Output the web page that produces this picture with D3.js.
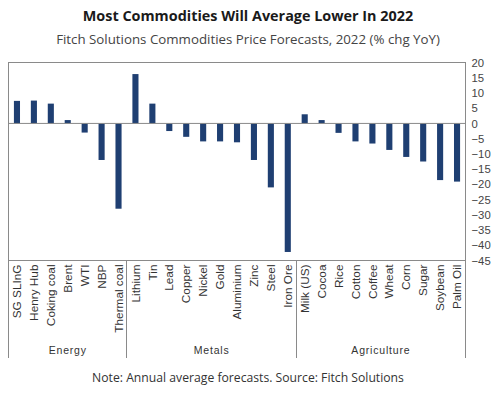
<!DOCTYPE html>
<html><head><meta charset="utf-8">
<script src="https://cdn.jsdelivr.net/npm/d3@7"></script>
<style>
body{margin:0;background:#fff;}
svg{display:block;}
</style></head>
<body>
<svg id="chart" width="500" height="394"></svg>
<script>
const categories = ["SG SLInG","Henry Hub","Coking coal","Brent","WTI","NBP","Thermal coal",
  "Lithium","Tin","Lead","Copper","Nickel","Gold","Aluminium","Zinc","Steel","Iron Ore",
  "Milk (US)","Cocoa","Rice","Cotton","Coffee","Wheat","Corn","Sugar","Soybean","Palm Oil"];
const values = [7.4,7.5,6.5,1.1,-3,-12,-28,
  16.2,6.5,-2.5,-4.4,-5.9,-5.9,-6.2,-12,-21,-42.2,
  3,1.1,-3.1,-5.9,-6.6,-8.7,-11,-12.5,-18.6,-19.1];
const groupNames = ["Energy","Metals","Agriculture"];
const groupSizes = [7,10,10];
const yTicks = [20,15,10,5,0,-5,-10,-15,-20,-25,-30,-35,-40,-45];
const title = "Most Commodities Will Average Lower In 2022";
const subtitle = "Fitch Solutions Commodities Price Forecasts, 2022 (% chg YoY)";
const note = "Note: Annual average forecasts. Source: Fitch Solutions";

const svg = d3.select("#chart");
const L = 8.5, R = 465.5, T = 62.5, B = 260.5, catBottom = 358;

const x = d3.scaleBand().domain(categories).range([L, R]).paddingInner(0.64).paddingOuter(0.32);
const y = d3.scaleLinear().domain([-45, 20]).range([B, T]);

// titles
svg.append("text").attr("x", 248).attr("y", 21).attr("text-anchor","middle")
  .attr("font-family","'Open Sans', sans-serif").attr("font-weight","bold").attr("font-size",14.4)
  .attr("fill","#1a1a1a").text(title);
svg.append("text").attr("x", 248).attr("y", 44).attr("text-anchor","middle")
  .attr("font-family","'Open Sans', sans-serif").attr("font-size",13.3)
  .attr("fill","#444").text(subtitle);
svg.append("text").attr("x", 248).attr("y", 382).attr("text-anchor","middle")
  .attr("font-family","'Open Sans', sans-serif").attr("font-size",12.2)
  .attr("fill","#333").text(note);

// bars
svg.append("g").selectAll("rect").data(values).join("rect")
  .attr("x", (d,i) => x(categories[i]))
  .attr("width", x.bandwidth())
  .attr("y", d => y(Math.max(0,d)))
  .attr("height", d => Math.abs(y(d) - y(0)))
  .attr("fill", "#1f3f72");

// zero line
svg.append("line").attr("x1", L).attr("x2", R).attr("y1", y(0)).attr("y2", y(0))
  .attr("stroke","#8a8a8a").attr("stroke-width",1);

// plot frame
svg.append("rect").attr("x", L).attr("y", T).attr("width", R-L).attr("height", B-T)
  .attr("fill","none").attr("stroke","#8a8a8a").attr("stroke-width",1);

// right axis
const yAxis = d3.axisRight(y).tickValues(yTicks).tickSize(0).tickPadding(6);
const ay = svg.append("g").attr("transform", `translate(${R},0)`).call(yAxis);
ay.select(".domain").remove();
ay.selectAll("text").attr("font-family","'Liberation Sans', Arial, sans-serif")
  .attr("font-size",11.3).attr("fill","#444");

// category labels
const catAxis = d3.axisBottom(x).tickSize(0).tickPadding(0);
const ax = svg.append("g").attr("transform", `translate(0,${B})`).call(catAxis);
ax.select(".domain").remove();
ax.selectAll("text")
  .attr("font-family","'Liberation Sans', Arial, sans-serif").attr("font-size",11.8).attr("fill","#333")
  .attr("text-anchor","end").attr("dy","0.35em").attr("dx","0")
  .attr("transform","translate(0,4) rotate(-90)")
  .attr("y",0).attr("x",0);

// group dividers & labels
let start = 0;
const dividers = [L];
groupNames.forEach((g,i) => {
  const first = categories[start], last = categories[start + groupSizes[i] - 1];
  const x0 = i === 0 ? L : x(first) - x.step()*x.paddingInner()/2;
  const x1 = i === groupNames.length-1 ? R : x(last) + x.bandwidth() + x.step()*x.paddingInner()/2;
  dividers.push(x1);
  svg.append("text").attr("x", (x0+x1)/2).attr("y", 354).attr("text-anchor","middle")
    .attr("font-family","'Liberation Sans', Arial, sans-serif").attr("font-size",10.5)
    .attr("letter-spacing","0.8px").attr("fill","#333").text(g);
  start += groupSizes[i];
});
svg.append("g").selectAll("line").data(dividers).join("line")
  .attr("x1", d => Math.round(d - 0.5) + 0.5).attr("x2", d => Math.round(d - 0.5) + 0.5)
  .attr("y1", B).attr("y2", catBottom)
  .attr("stroke","#8a8a8a").attr("stroke-width",1);
</script>
</body></html>
